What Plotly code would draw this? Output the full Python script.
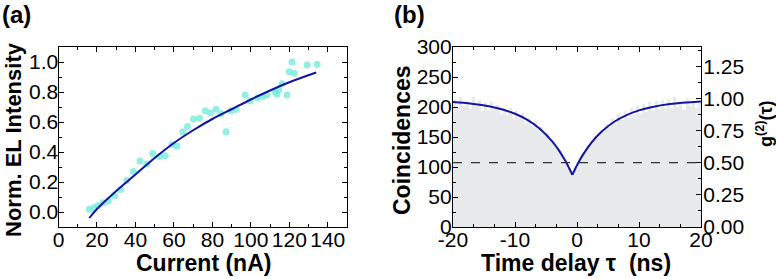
import plotly.graph_objects as go

# ---------------- Panel (a) data ----------------
current_nA = [16.0, 18.5, 20.7, 23.3, 25.9, 29.1, 32.4, 35.5, 39.0, 42.4, 45.9, 49.0,
              52.5, 55.5, 59.0, 61.5, 64.6, 67.1, 70.2, 73.3, 76.3, 78.9, 81.9, 84.5,
              87.1, 89.8, 92.4, 97.1, 99.7, 103.5, 106.3, 108.4, 112.8, 113.6, 114.5,
              116.2, 118.8, 120.0, 121.4, 122.6, 129.3, 134.5]
el_intensity = [0.018, 0.029, 0.044, 0.062, 0.073, 0.11, 0.15, 0.21, 0.27, 0.34, 0.32, 0.39,
                0.37, 0.375, 0.45, 0.44, 0.535, 0.57, 0.62, 0.625, 0.675, 0.66, 0.685, 0.655,
                0.535, 0.675, 0.685, 0.78, 0.74, 0.76, 0.77, 0.78, 0.80, 0.785, 0.815,
                0.855, 0.78, 0.935, 1.0, 0.925, 0.98, 0.985]
fit_current = [16, 20, 30, 40, 50, 60, 70, 80, 90, 100, 110, 120, 134]
fit_intensity = [-0.04, 0.02, 0.14, 0.25, 0.36, 0.46, 0.545, 0.62, 0.685, 0.75, 0.81, 0.865, 0.93]
a_xticks = [0, 20, 40, 60, 80, 100, 120, 140]
a_yticks = [0.0, 0.2, 0.4, 0.6, 0.8, 1.0]

# ---------------- Panel (b) data ----------------
bin_centers = [-19.75 + 0.5 * i for i in range(80)]
coincidences = [214, 199, 217, 202, 209, 197, 217, 201, 211, 193, 207, 195, 209, 196, 204,
                189, 199, 187, 198, 181, 193, 182, 190, 174, 181, 169, 177, 163, 167, 155,
                157, 144, 144, 132, 129, 116, 111, 99, 92,
                101, 108, 121, 124, 137, 138, 151, 149, 162, 158, 172, 166, 181, 172, 188,
                178, 194, 182, 198, 186, 203, 189, 205, 192, 208, 195, 210, 196, 212, 198,
                214, 199, 216, 200, 209, 195, 213, 201, 210, 199, 207]
fit_tau = [-20, -17, -14, -12, -10, -8, -6, -4, -3, -2, -1.5, -0.75,
           -0.75, 0, 0.5, 1, 2, 3, 4, 6, 8, 10, 12, 15, 20]
fit_counts = [208.2, 205.5, 200.8, 195.8, 188.7, 178.5, 163.9, 142.8, 129.0, 112.4, 102.9, 87,
              87, 102.9, 112.4, 121.1, 136.2, 148.8, 159.3, 175.4, 186.5, 194.3, 199.7, 204.9, 209.1]
b_xticks = [-20, -10, 0, 10, 20]
b_xticklabels = ["-20", "-10", "0", "10", "20"]
b_yticks = [0, 50, 100, 150, 200, 250, 300]
g2_ticks = [0, 0.25, 0.5, 0.75, 1.0, 1.25]
g2_half = 0.5

FONT = "Liberation Sans"
fig = go.Figure()

fig.add_trace(go.Scatter(x=current_nA, y=el_intensity, mode="markers",
                         marker=dict(size=7, color="rgba(115,236,218,0.78)",
                                     line=dict(width=0)),
                         xaxis="x", yaxis="y", showlegend=False))
fig.add_trace(go.Scatter(x=fit_current, y=fit_intensity, mode="lines",
                         line=dict(color="#1414a0", width=2, shape="spline"),
                         xaxis="x", yaxis="y", showlegend=False))

fig.add_trace(go.Bar(x=bin_centers, y=coincidences, width=0.5,
                     marker=dict(color="#e7e9eb", line=dict(width=0)),
                     xaxis="x2", yaxis="y2", showlegend=False))
fig.add_trace(go.Scatter(x=[-20, 20], y=[g2_half, g2_half], mode="lines",
                         line=dict(color="#333333", width=1.3, dash="dash"),
                         xaxis="x2", yaxis="y3", showlegend=False))
fig.add_trace(go.Scatter(x=fit_tau[:12], y=fit_counts[:12], mode="lines",
                         line=dict(color="#1414a0", width=2, shape="spline"),
                         xaxis="x2", yaxis="y2", showlegend=False))
fig.add_trace(go.Scatter(x=fit_tau[12:], y=fit_counts[12:], mode="lines",
                         line=dict(color="#1414a0", width=2, shape="spline"),
                         xaxis="x2", yaxis="y2", showlegend=False))

W, H = 776, 279
def px(x):
    return x / W
def py(y):
    return 1 - y / H

ydom = [py(227), py(47)]
tickfont = dict(family=FONT, size=21, color="black")
common = dict(showline=True, linecolor="black", linewidth=1.2, ticks="inside",
              ticklen=5, tickwidth=1.1, tickcolor="black", showgrid=False,
              zeroline=False, tickfont=tickfont, automargin=False, tickangle=0)

fig.update_layout(
    width=W, height=H, margin=dict(l=0, r=0, t=0, b=0, autoexpand=False),
    paper_bgcolor="white", plot_bgcolor="white", bargap=0,
    xaxis=dict(domain=[px(58.5), px(347)], range=[0, 150], tickvals=a_xticks,
               mirror="ticks", anchor="y", ticklabelstandoff=-6,
               minor=dict(dtick=10, tick0=0, ticks="inside", ticklen=3, tickcolor="black"),
               **common),
    yaxis=dict(domain=ydom, range=[-0.1, 1.1], tickvals=a_yticks, tickformat=".1f",
               mirror="ticks", anchor="x", ticklabelstandoff=-5,
               minor=dict(dtick=0.1, tick0=0, ticks="inside", ticklen=3, tickcolor="black"),
               **common),
    xaxis2=dict(domain=[px(453), px(701)], range=[-20, 20], tickvals=b_xticks,
                ticktext=b_xticklabels, mirror="ticks", anchor="y2", ticklabelstandoff=-6,
                minor=dict(dtick=10 / 3, tick0=0, ticks="inside", ticklen=3, tickcolor="black"),
                **common),
    yaxis2=dict(domain=ydom, range=[0, 300], tickvals=b_yticks, anchor="x2",
                ticklabelstandoff=-4,
                minor=dict(dtick=25, tick0=0, ticks="inside", ticklen=3, tickcolor="black"),
                **common),
    yaxis3=dict(range=[0, 1.4], tickvals=g2_ticks, tickformat=".2f",
                overlaying="y2", side="right", anchor="x2", ticklabelstandoff=-3,
                minor=dict(dtick=0.125, tick0=0, ticks="inside", ticklen=3, tickcolor="black"),
                **common),
)

tfont = dict(family=FONT, size=23, color="black")
ann = [
    dict(text="<b>(a)</b>", x=px(0), y=py(14), xanchor="left", yanchor="middle",
         font=dict(family=FONT, size=24, color="black")),
    dict(text="<b>(b)</b>", x=px(392), y=py(14), xanchor="left", yanchor="middle",
         font=dict(family=FONT, size=24, color="black")),
    dict(text="<b>Current (nA)</b>", x=px(203), y=py(263), xanchor="center",
         yanchor="middle", font=tfont),
    dict(text="<b>Norm. EL Intensity</b>", x=px(13), y=py(140), xanchor="center",
         yanchor="middle", textangle=-90, font=dict(family=FONT, size=22, color="black")),
    dict(text="<b>Coincidences</b>", x=px(402), y=py(140), xanchor="center",
         yanchor="middle", textangle=-90, font=tfont),
    dict(text="<b>Time delay τ&nbsp;&nbsp;(ns)</b>", x=px(576), y=py(263), xanchor="center",
         yanchor="middle", font=tfont),
    dict(text="<b>g<sup>(2)</sup>(τ)</b>", x=px(764), y=py(124), xanchor="center",
         yanchor="middle", textangle=-90, font=dict(family=FONT, size=18, color="black")),
]
for a in ann:
    a.update(xref="paper", yref="paper", showarrow=False)
fig.update_layout(annotations=ann)

fig.write_html("out.html", config={"displayModeBar": False},
               post_script="document.body.style.margin='0';document.body.style.overflow='hidden';")
